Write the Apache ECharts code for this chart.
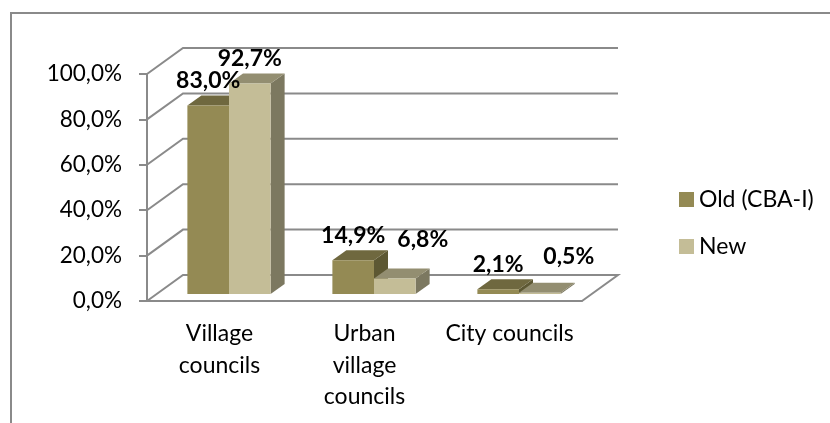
<!DOCTYPE html>
<html><head><meta charset="utf-8">
<style>html,body{margin:0;padding:0;background:#fff}#c{width:830px;height:423px}</style>
<script src="https://cdn.jsdelivr.net/npm/echarts@6/dist/echarts.min.js"></script>
</head><body><div id="c"></div>
<script>
const categories = ['Village\ncouncils', 'Urban\nvillage\ncouncils', 'City councils'];
const oldValues = [83.0, 14.9, 2.1];
const newValues = [92.7, 6.8, 0.5];
const yTicks = [0, 20, 40, 60, 80, 100];
const seriesNames = ['Old (CBA-I)', 'New'];

const FONT = 'Lato, "Open Sans", sans-serif';
const GRAY = '#8a8a8a';
const WALL_DX = 36, WALL_DY = 26;
const BAR_W_RATIO = 0.287, BAR_OX = 9.5, BAR_OY = 7, BAR_DX = 14, BAR_DY = 10;
const fmt = v => v.toFixed(1).replace('.', ',') + '%';
const palettes = [
  { front: '#948a54', top: '#6f683f', side: '#5d5833' },
  { front: '#c4bd97', top: '#938e71', side: '#7c7860' }
];
// hand-moved data labels of the second series, per category
const labelMoves = [[[0,0],[0,0],[0,0]], [[0,0],[28,-14],[29,-11]]];

const wallItem = (params, api) => {
  const cs = params.coordSys;
  const y = api.coord([0, api.value(0)])[1];
  const x0 = cs.x, x1 = cs.x + cs.width;
  const style = { stroke: GRAY, lineWidth: 2, fill: null };
  const pts = [[x0, y], [x0 + WALL_DX, y - WALL_DY], [x1 + WALL_DX, y - WALL_DY]];
  if (api.value(0) === 0) pts.push([x1, y]);
  return { type: 'polyline', shape: { points: pts }, style, silent: true };
};

const barItem = idx => (params, api) => {
  const size = api.size([1, 0])[0];
  const w = size * BAR_W_RATIO;
  const p = api.coord([api.value(0), api.value(1)]);
  const base = api.coord([api.value(0), 0]);
  const x = p[0] + BAR_OX + (idx === 0 ? -w : 0);
  const yt = p[1] - BAR_OY, yb = base[1] - BAR_OY;
  const c = palettes[idx];
  return { type: 'group', children: [
    { type: 'polygon', shape: { points: [[x + w, yb], [x + w + BAR_DX, yb - BAR_DY], [x + w + BAR_DX, yt - BAR_DY], [x + w, yt]] }, style: { fill: c.side } },
    { type: 'polygon', shape: { points: [[x, yt], [x + BAR_DX, yt - BAR_DY], [x + w + BAR_DX, yt - BAR_DY], [x + w, yt]] }, style: { fill: c.top } },
    { type: 'rect', shape: { x, y: yt, width: w, height: yb - yt }, style: { fill: c.front } }
  ]};
};

const labelItem = idx => (params, api) => {
  const size = api.size([1, 0])[0];
  const w = size * BAR_W_RATIO;
  const cat = api.value(0);
  const p = api.coord([cat, api.value(1)]);
  const mv = labelMoves[idx][cat];
  return { type: 'text', silent: true, style: {
    x: p[0] + BAR_OX + (idx === 0 ? -w / 2 : w / 2) + mv[0],
    y: p[1] - BAR_OY - 25 + mv[1],
    text: fmt(api.value(1)), align: 'center', verticalAlign: 'middle',
    font: 'bold 23px ' + FONT, fill: '#000'
  }};
};

const rows = arr => arr.map((v, i) => [i, v]);
const chart = echarts.init(document.getElementById('c'), null, { renderer: 'canvas' });
chart.setOption({
  animation: false,
  backgroundColor: '#fff',
  grid: { left: 147, top: 74, width: 435, height: 227, containLabel: false },
  legend: {
    left: 679, top: 188, orient: 'vertical', icon: 'rect', itemWidth: 15, itemHeight: 15, itemGap: 24, padding: 0,
    selectedMode: false, data: seriesNames,
    textStyle: { fontFamily: FONT, fontSize: 23, color: '#000', padding: 0 }
  },
  xAxis: {
    type: 'category', data: categories,
    axisLine: { lineStyle: { color: GRAY, width: 2 } },
    axisTick: { length: 8, lineStyle: { color: GRAY, width: 2 } },
    axisLabel: { fontFamily: FONT, fontSize: 23, color: '#000', lineHeight: 31.5, margin: 17, interval: 0 }
  },
  yAxis: {
    type: 'value', min: 0, max: 100, interval: 20,
    splitLine: { show: false },
    axisLine: { show: true, lineStyle: { color: GRAY, width: 2 } },
    axisTick: { show: true, length: 8, lineStyle: { color: GRAY, width: 2 } },
    axisLabel: { fontFamily: FONT, fontSize: 22.5, color: '#000', margin: 25, formatter: v => fmt(v) }
  },
  graphic: [
    { type: 'polyline', silent: true, shape: { points: [[11, 423], [11, 13], [830, 13]] }, style: { stroke: GRAY, lineWidth: 2, fill: null } }
  ],
  series: [
    { type: 'custom', name: 'wall', z: 1, silent: true, data: yTicks.map(v => [v]), encode: { y: 0 }, renderItem: wallItem, clip: false },
    { type: 'custom', name: seriesNames[0], z: 2, itemStyle: { color: palettes[0].front }, data: rows(oldValues), encode: { x: 0, y: 1 }, renderItem: barItem(0), clip: false },
    { type: 'custom', name: seriesNames[1], z: 3, itemStyle: { color: palettes[1].front }, data: rows(newValues), encode: { x: 0, y: 1 }, renderItem: barItem(1), clip: false },
    { type: 'custom', name: 'labelsOld', z: 5, silent: true, data: rows(oldValues), encode: { x: 0, y: 1 }, renderItem: labelItem(0), clip: false },
    { type: 'custom', name: 'labelsNew', z: 5, silent: true, data: rows(newValues), encode: { x: 0, y: 1 }, renderItem: labelItem(1), clip: false }
  ]
});
</script></body></html>
